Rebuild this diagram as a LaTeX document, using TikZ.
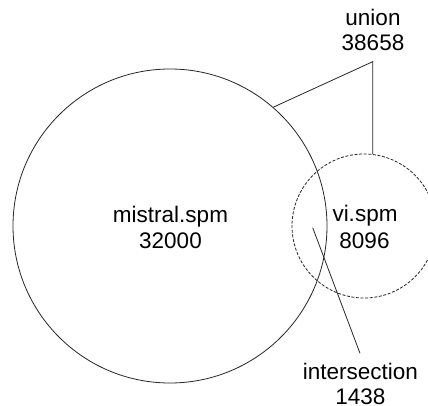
\documentclass[tikz,border=0pt]{standalone}
\usepackage{fontspec}
\setmainfont{Liberation Sans}
\begin{document}
\begin{tikzpicture}[x=1pt,y=-1pt,
  lbl/.style={inner sep=0pt, anchor=base, font=\fontsize{22.5}{27}\selectfont, text=black},
  setline/.style={draw=black!85, line width=0.8pt},
  dashline/.style={draw=black!85, line width=0.8pt, dash pattern=on 3pt off 1.6pt},
  leader/.style={draw=black!85, line width=0.8pt}]
\useasboundingbox (0,0) rectangle (428,406);
\clip (0,0) rectangle (428,406);
% circles
\node[setline, circle, minimum size=314pt, inner sep=0pt] (big) at (170,226) {};
\node[dashline, circle, minimum size=144pt, inner sep=0pt] (small) at (364,226) {};
% labels
\node[lbl] (mistral) at (170.5,222.5) {mistral.spm};
\node[lbl] (mistraln) at (170.5,248.3) {32000};
\node[lbl] (vi) at (365,222) {vi.spm};
\node[lbl] (vin) at (364.5,248.3) {8096};
\node[lbl] (union) at (373,26) {union};
\node[lbl] (unionn) at (373,51) {38658};
\node[lbl] (inter) at (360.3,379.3) {intersection};
\node[lbl] (intern) at (360.3,404) {1438};
% leader lines
\coordinate (ua) at (372.7,61.7);
\coordinate (ia) at (360,353.3);
\coordinate (ib) at (312.7,227.7);
\draw[leader] (big.49) -- (ua) -- (small.83);
\draw[leader] (ia) -- (ib);
\end{tikzpicture}
\end{document}
